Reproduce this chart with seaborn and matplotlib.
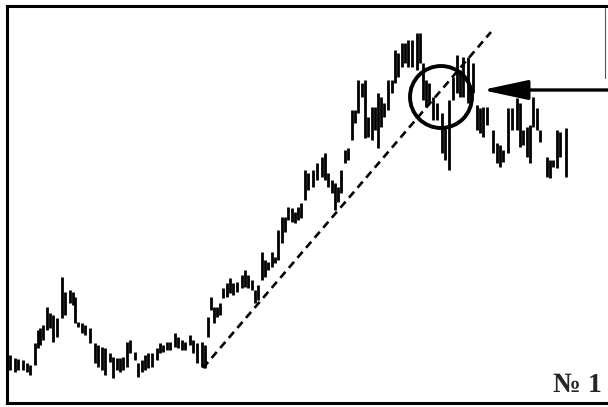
import numpy as np
import pandas as pd
import matplotlib
matplotlib.use("Agg")
import matplotlib.pyplot as plt
from matplotlib.patches import Circle
import seaborn as sns

sns.set_theme(style="white")

# ──────────────────────────────────────────────
# Data: bar position (trading day) and high / low price
# ──────────────────────────────────────────────
day = [10, 15, 18, 23, 27, 30, 35, 38, 40, 43, 47, 50, 53, 57, 62, 65, 70, 73, 75, 78,
       82, 85, 90, 95, 98, 102, 105, 110, 113, 117, 120, 123, 127, 130, 135, 138, 142, 145, 148, 152,
       157, 160, 163, 167, 170, 175, 178, 182, 185, 190, 193, 197, 202, 205, 208, 211, 214, 217, 220, 223,
       227, 230, 233, 237, 242, 245, 248, 252, 255, 258, 262, 265, 268, 272, 275, 278, 282, 285, 288, 292,
       295, 298, 301, 305, 308, 313, 317, 322, 325, 328, 332, 335, 338, 341, 345, 348, 352, 355, 358, 362,
       365, 368, 372, 375, 378, 381, 384, 388, 392, 395, 398, 402, 405, 408, 412, 417, 420, 423, 426, 429,
       433, 437, 442, 445, 449, 453, 457, 460, 463, 468, 473, 477, 480, 483, 487, 493, 497, 500, 503, 508,
       512, 517, 520, 523, 527, 530, 533, 537, 540, 547, 550, 553, 557, 560, 566]
high = [52, 49, 48, 47, 44, 42, 64, 77, 79, 82, 100, 94, 92, 89, 130, 115, 117, 115, 110, 85,
        84, 82, 79, 64, 62, 60, 59, 54, 50, 49, 49, 50, 65, 67, 55, 44, 47, 52, 54, 54,
        59, 64, 62, 65, 65, 74, 70, 67, 65, 72, 67, 64, 65, 62, 90, 110, 100, 100, 104, 119,
        124, 129, 124, 125, 132, 137, 132, 127, 117, 122, 155, 147, 145, 155, 150, 177, 190, 190, 200, 199,
        195, 200, 204, 237, 234, 237, 244, 250, 254, 234, 227, 224, 220, 237, 257, 259, 297, 297, 327, 324,
        327, 290, 300, 300, 314, 310, 304, 327, 327, 357, 354, 364, 364, 367, 367, 374, 374, 344, 327, 324,
        310, 304, 294, 280, 307, 330, 352, 337, 350, 350, 344, 302, 299, 300, 300, 277, 264, 262, 257, 299,
        299, 309, 304, 277, 280, 282, 310, 299, 277, 250, 247, 247, 277, 275, 279]
low = [37, 35, 37, 37, 35, 32, 42, 59, 62, 67, 77, 79, 65, 70, 89, 92, 104, 102, 84, 80,
       74, 72, 64, 44, 40, 37, 32, 45, 29, 37, 35, 37, 40, 54, 47, 30, 35, 37, 39, 40,
       47, 54, 55, 57, 57, 60, 59, 57, 57, 62, 54, 44, 40, 39, 70, 97, 84, 90, 92, 109,
       110, 114, 112, 115, 119, 120, 119, 117, 104, 107, 127, 130, 137, 140, 144, 147, 164, 175, 187, 185,
       184, 187, 189, 207, 217, 220, 227, 230, 227, 220, 214, 197, 205, 214, 244, 247, 267, 284, 294, 310,
       269, 270, 267, 277, 259, 280, 290, 297, 314, 324, 330, 340, 344, 340, 340, 337, 344, 307, 300, 304,
       287, 287, 254, 247, 237, 307, 314, 310, 310, 304, 314, 277, 274, 270, 282, 254, 244, 240, 245, 254,
       277, 277, 260, 262, 250, 244, 280, 277, 265, 230, 229, 240, 239, 250, 230]

# trend line drawn under the lows, and the marked breakout
trend_day = [203, 491]
trend_price = [39, 375]
circle_day, circle_price = 441, 310
arrow_price = 317

bars = pd.DataFrame({"day": day, "high": high, "low": low})
trend = pd.DataFrame({"day": trend_day, "price": trend_price})

# ──────────────────────────────────────────────
# Figure
# ──────────────────────────────────────────────
fig = plt.figure(figsize=(6.08, 4.07), dpi=100)
ax = fig.add_axes([7 / 608, 4 / 407, 613 / 608, 397 / 407])

ax.vlines(bars["day"], bars["low"], bars["high"], color="black", linewidth=2.0)

sns.lineplot(data=trend, x="day", y="price", ax=ax, color="black",
             linewidth=1.9, linestyle=(0, (3, 2)))

ax.add_patch(Circle((circle_day, circle_price), 31, fill=False,
                    edgecolor="black", linewidth=2.8))

ax.annotate("", xy=(482, arrow_price), xytext=(625, arrow_price),
            arrowprops=dict(arrowstyle="-|>,head_length=1.4,head_width=0.3",
                            mutation_scale=20, color="black", lw=2.4,
                            shrinkA=0, shrinkB=0))

# edge of a clipped label box on the right
ax.plot([605, 605], [329, 399], color="0.35", linewidth=0.8)

ax.text(577, 22, "№ 1", ha="center", va="center", fontsize=20,
        fontweight="bold", family=["Liberation Serif", "DejaVu Serif"])

ax.set_xlim(7, 620)
ax.set_ylim(4, 401)
ax.set_xticks([])
ax.set_yticks([])
ax.set_xlabel("")
ax.set_ylabel("")
for side in ["left", "top", "bottom"]:
    ax.spines[side].set_color("black")
    ax.spines[side].set_linewidth(2.2)
ax.spines["right"].set_visible(False)

fig.savefig("out.png", dpi=100, facecolor="white")
plt.close(fig)
